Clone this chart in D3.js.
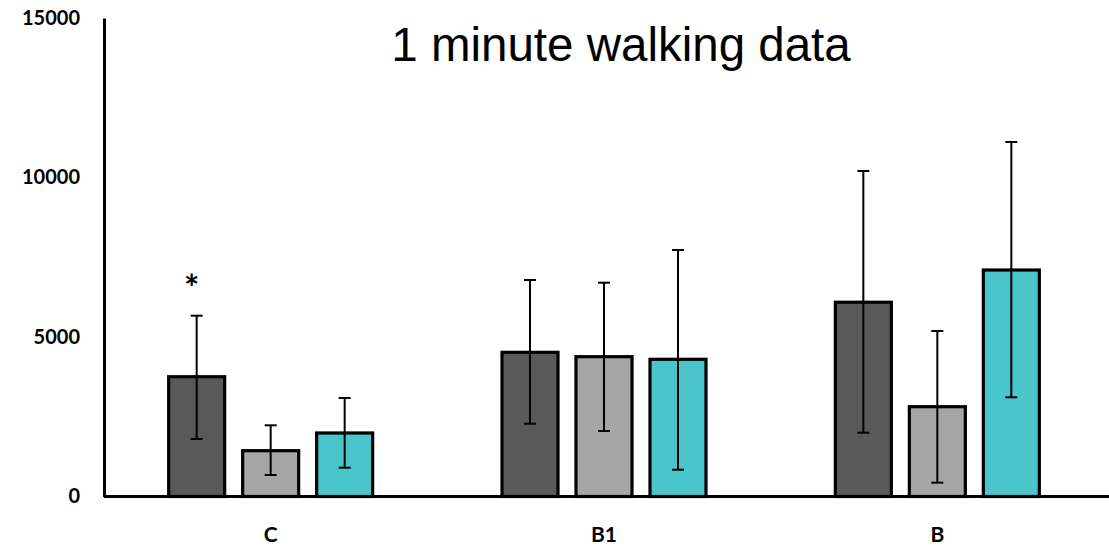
<!DOCTYPE html>
<html>
<head>
<meta charset="utf-8">
<script src="https://cdn.jsdelivr.net/npm/d3@7"></script>
<style>
  html, body { margin: 0; padding: 0; background: #fff; }
  svg { display: block; }
</style>
</head>
<body>
<svg id="chart" width="1109" height="548"></svg>
<script>
// Groups and series
const categories = ["C", "B1", "B"];
const series = ["s1", "s2", "s3"];
const seriesColors = ["#595959", "#a5a5a5", "#4bc5cc"];

// Mean values per series, in category order
const meanS1 = [3755, 4520, 6090];
const meanS2 = [1436, 4383, 2815];
const meanS3 = [1991, 4301, 7100];

// Error bar extents (upper / lower) per series
const upperS1 = [5668, 6787, 10204];
const lowerS1 = [1803, 2282, 2000];
const upperS2 = [2232, 6702, 5188];
const lowerS2 = [674, 2053, 433];
const upperS3 = [3088, 7727, 11113];
const lowerS3 = [903, 840, 3110];

const yTicks = [0, 5000, 10000, 15000];
const title = "1 minute walking data";

const means = [meanS1, meanS2, meanS3];
const uppers = [upperS1, upperS2, upperS3];
const lowers = [lowerS1, lowerS2, lowerS3];

const rows = [];
categories.forEach((c, ci) => {
  series.forEach((s, si) => {
    rows.push({
      cat: c, ser: s, color: seriesColors[si],
      v: means[si][ci], hi: uppers[si][ci], lo: lowers[si][ci]
    });
  });
});

const svg = d3.select("#chart");

const x = d3.scaleBand().domain(categories).range([104, 1104]).padding(0);
const xs = d3.scaleBand().domain(series).range([0, x.bandwidth()])
  .paddingInner(0.243).paddingOuter(0.874);
const y = d3.scaleLinear().domain([0, 15000]).range([496.5, 18]);

// Bars
svg.append("g").selectAll("rect").data(rows).join("rect")
  .attr("x", d => x(d.cat) + xs(d.ser))
  .attr("y", d => y(d.v))
  .attr("width", xs.bandwidth())
  .attr("height", d => y(0) - y(d.v))
  .attr("fill", d => d.color)
  .attr("stroke", "#000")
  .attr("stroke-width", 3.2);

// Error bars
const eb = svg.append("g").attr("stroke", "#000").attr("stroke-width", 2);
const cx = d => x(d.cat) + xs(d.ser) + xs.bandwidth() / 2;
eb.selectAll("line.v").data(rows).join("line").attr("class", "v")
  .attr("x1", cx).attr("x2", cx)
  .attr("y1", d => y(d.hi)).attr("y2", d => y(d.lo));
eb.selectAll("line.t").data(rows).join("line").attr("class", "t")
  .attr("x1", d => cx(d) - 6).attr("x2", d => cx(d) + 6)
  .attr("y1", d => y(d.hi)).attr("y2", d => y(d.hi));
eb.selectAll("line.b").data(rows).join("line").attr("class", "b")
  .attr("x1", d => cx(d) - 6).attr("x2", d => cx(d) + 6)
  .attr("y1", d => y(d.lo)).attr("y2", d => y(d.lo));

// Y axis
const yAxis = svg.append("g").attr("transform", "translate(104,0)")
  .call(d3.axisLeft(y).tickValues(yTicks).tickSize(0).tickPadding(24).tickFormat(d3.format("d")));
yAxis.select(".domain").attr("stroke", "#000").attr("stroke-width", 3);
yAxis.selectAll("text")
  .attr("font-family", "Lato, 'Open Sans', sans-serif")
  .attr("font-weight", "bold")
  .attr("font-size", 20)
  .attr("fill", "#000");

// X axis
const xAxis = svg.append("g").attr("transform", `translate(0,${y(0)})`)
  .call(d3.axisBottom(x).tickSize(0).tickPadding(31));
xAxis.select(".domain").attr("stroke", "#000").attr("stroke-width", 3)
  .attr("d", "M104,0H1109");
xAxis.selectAll("text")
  .attr("font-family", "Lato, 'Open Sans', sans-serif")
  .attr("font-weight", "bold")
  .attr("font-size", 21)
  .attr("fill", "#000");

// Significance marker above the first bar
const star = rows[0];
svg.append("text")
  .attr("x", cx(star) - 5)
  .attr("y", y(star.hi) - 15)
  .attr("text-anchor", "middle")
  .attr("font-family", "Lato, 'Open Sans', sans-serif")
  .attr("font-weight", "bold")
  .attr("font-size", 36)
  .attr("fill", "#000")
  .text("*");

// Title
svg.append("text")
  .attr("x", 621)
  .attr("y", 61)
  .attr("text-anchor", "middle")
  .attr("font-family", "'Liberation Sans', Arial, sans-serif")
  .attr("font-size", 47.5)
  .attr("fill", "#000")
  .text(title);
</script>
</body>
</html>
